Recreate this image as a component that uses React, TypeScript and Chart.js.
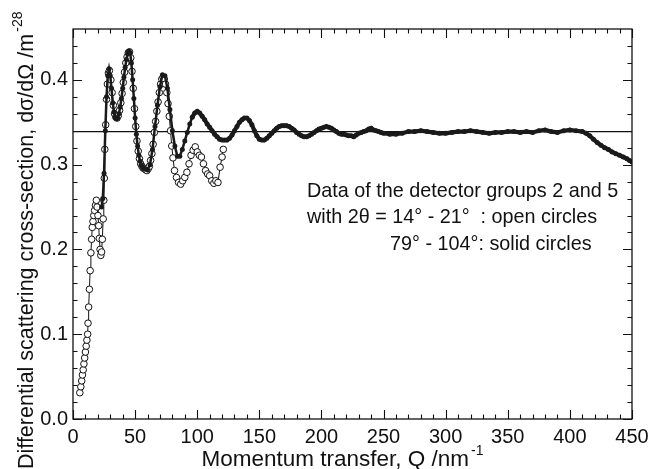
import React, { useEffect, useRef } from "react";
import { Chart, registerables } from "chart.js";

Chart.register(...registerables);

const FONT = '"Liberation Sans", Arial, Helvetica, sans-serif';

// Open circles: detector groups with 2θ = 14°–21°
const openQ = [
  5.5, 6.3, 7.0, 7.6, 8.2, 8.8, 9.4, 10.0, 10.6, 11.2, 11.8, 12.1, 12.6, 13.2, 13.8, 14.4, 15.0, 15.5, 16.1, 16.7,
  17.4, 18.1, 18.8, 19.4, 20.1, 20.7, 21.2, 21.8, 22.4, 23.0, 23.6, 24.3, 24.8, 25.2, 25.6, 26.3, 27.0, 27.7, 28.5, 29.3,
  30.5, 31.5, 32.5, 33.5, 34.5, 35.5, 36.5, 37.5, 38.5, 39.5, 40.5, 41.5, 42.5, 43.5, 44.5, 45.5, 46.5, 47.5, 48.5, 49.5,
  50.5, 51.5, 52.5, 53.5, 54.5, 55.5, 56.5, 57.5, 58.5, 59.5, 60.5, 61.5, 62.5, 63.5, 64.5, 65.5, 66.5, 67.5, 68.5, 69.5,
  70.5, 71.5, 72.5, 73.5, 74.5, 75.5, 76.5, 77.5, 78.5, 79.5, 80.5, 81.7, 83.3, 85.0, 86.7, 88.3, 90.0, 91.7, 93.4, 95.0,
  96.7, 98.4, 100.0, 101.7, 103.4, 105.0, 106.7, 108.4, 110.0, 111.7, 113.4, 115.0, 116.7, 118.4, 120.0, 121.0,
];
const openV = [
  0.031, 0.038, 0.045, 0.052, 0.058, 0.065, 0.072, 0.079, 0.086, 0.093, 0.1, 0.113, 0.132, 0.153, 0.175, 0.196, 0.212, 0.226, 0.233, 0.24,
  0.246, 0.252, 0.258, 0.25, 0.24, 0.228, 0.213, 0.2, 0.193, 0.197, 0.212, 0.236, 0.258, 0.284, 0.318, 0.347, 0.377, 0.395, 0.408, 0.411,
  0.4, 0.385, 0.37, 0.36, 0.356, 0.355, 0.358, 0.364, 0.373, 0.384, 0.397, 0.409, 0.42, 0.427, 0.432, 0.433, 0.426, 0.41, 0.39, 0.366,
  0.345, 0.328, 0.316, 0.307, 0.301, 0.298, 0.296, 0.295, 0.294, 0.293, 0.295, 0.298, 0.305, 0.313, 0.324, 0.338, 0.351, 0.363, 0.374, 0.385,
  0.395, 0.401, 0.403, 0.401, 0.395, 0.385, 0.372, 0.357, 0.34, 0.322, 0.308, 0.293, 0.285, 0.279, 0.277, 0.281, 0.285, 0.291, 0.301, 0.311,
  0.317, 0.321, 0.315, 0.311, 0.309, 0.301, 0.293, 0.289, 0.287, 0.281, 0.278, 0.281, 0.279, 0.297, 0.309, 0.318,
];

// Solid circles: detector groups with 2θ = 79°–104°
const solidQ = [
  23, 24, 25, 26, 27, 28, 29, 30, 31, 32, 33, 34, 35, 36, 37, 38, 39, 40, 41, 42, 43, 44, 45, 46, 47, 48, 49, 50,
  51, 52, 53, 54, 55, 56, 58, 60, 62, 64, 66, 68, 70, 72, 74, 76, 78, 80, 82, 84, 86, 88, 90, 92, 94, 96, 98, 100,
  102, 104, 106, 108, 110, 112, 114, 116, 118, 120, 122, 124, 126, 128, 130, 132, 134, 136, 138, 140, 142, 144, 146, 148, 150,
  152, 154, 156, 158, 160, 162, 164, 166, 168, 170, 172, 174, 176, 178, 180, 182, 184, 186, 188, 190, 192, 194, 196, 198, 200,
  202, 204, 206, 208, 210, 212, 214, 216, 218, 220, 222, 224, 226, 228, 230, 232, 234, 236, 238, 240, 242, 244, 246, 248, 250,
  255, 260, 265, 270, 275, 280, 285, 290, 295, 300, 305, 310, 315, 320, 325, 330, 335, 340, 345, 350, 355, 360, 365, 370, 375,
  380, 385, 390, 395, 400, 405, 410, 413, 416, 419, 422, 425, 428, 431, 434, 437, 440, 443, 446, 448, 450,
];
const solidV = [
  0.25, 0.26, 0.29, 0.34, 0.38, 0.405, 0.413, 0.405, 0.39, 0.373, 0.362, 0.356, 0.354, 0.355, 0.36, 0.368, 0.378, 0.39, 0.403, 0.415, 0.424, 0.431, 0.434, 0.432, 0.42, 0.4, 0.378, 0.355,
  0.336, 0.322, 0.311, 0.304, 0.299, 0.297, 0.295, 0.294, 0.3, 0.318, 0.345, 0.37, 0.392, 0.406, 0.405, 0.39, 0.365, 0.34, 0.322, 0.31, 0.31, 0.318, 0.328, 0.338, 0.348, 0.356, 0.361, 0.363,
  0.361, 0.357, 0.353, 0.348, 0.344, 0.34, 0.336, 0.333, 0.33, 0.329, 0.329, 0.329, 0.331, 0.335, 0.34, 0.345, 0.35, 0.353, 0.355, 0.355, 0.352, 0.347, 0.34, 0.334, 0.33,
  0.329, 0.329, 0.331, 0.334, 0.337, 0.34, 0.343, 0.345, 0.346, 0.346, 0.346, 0.345, 0.343, 0.341, 0.338, 0.336, 0.334, 0.333, 0.333, 0.334, 0.336, 0.338, 0.34, 0.342, 0.343,
  0.344, 0.345, 0.344, 0.343, 0.341, 0.339, 0.337, 0.336, 0.336, 0.335, 0.334, 0.334, 0.333, 0.335, 0.337, 0.338, 0.339, 0.34, 0.342, 0.343, 0.341, 0.34, 0.339, 0.338, 0.337,
  0.336, 0.336, 0.337, 0.339, 0.339, 0.34, 0.339, 0.338, 0.337, 0.337, 0.338, 0.339, 0.339, 0.34, 0.339, 0.338, 0.337, 0.338, 0.338, 0.339, 0.339, 0.338, 0.339, 0.338, 0.34,
  0.341, 0.339, 0.338, 0.34, 0.341, 0.34, 0.339, 0.337, 0.334, 0.33, 0.326, 0.323, 0.32, 0.318, 0.315, 0.313, 0.311, 0.309, 0.307, 0.305, 0.303,
];

// Horizontal reference level
const refQ = [0, 450];
const refV = [0.339, 0.339];

// Axes
const xRange = [0, 450];
const yRange = [0, 0.46];
const xMajorTicks = [0, 50, 100, 150, 200, 250, 300, 350, 400, 450];
const yMajorTicks = [0.0, 0.1, 0.2, 0.3, 0.4];
const xMinorStep = 10;
const yMinorStep = 0.02;

const xTitle = "Momentum transfer, Q /nm";
const xTitleSup = "-1";
const yTitle = "Differential scattering cross-section, d\u03c3/d\u03a9 /m";
const yTitleSup = "-28";

const noteLines = [
  "Data of the detector groups 2 and 5",
  "with 2\u03b8 = 14\u00b0 - 21\u00b0  : open circles",
  "79\u00b0 - 104\u00b0: solid circles",
];

const framePlugin = {
  id: "frameTicks",
  afterDraw(chart: any) {
    const { ctx, chartArea: a, scales } = chart;
    const xs = scales.x;
    const ys = scales.y;
    ctx.save();
    ctx.strokeStyle = "#111";
    ctx.lineWidth = 1.3;
    ctx.strokeRect(a.left, a.top, a.right - a.left, a.bottom - a.top);
    ctx.lineWidth = 1.1;
    ctx.beginPath();
    const nX = Math.round((xRange[1] - xRange[0]) / xMinorStep);
    for (let i = 0; i <= nX; i++) {
      const q = xRange[0] + i * xMinorStep;
      const major = xMajorTicks.some((t) => Math.abs(t - q) < 1e-6);
      const len = major ? 9 : 4.5;
      const px = Math.round(xs.getPixelForValue(q)) + 0.5;
      ctx.moveTo(px, a.bottom);
      ctx.lineTo(px, a.bottom - len);
      ctx.moveTo(px, a.top);
      ctx.lineTo(px, a.top + len);
    }
    const nY = Math.floor((yRange[1] - yRange[0]) / yMinorStep + 1e-6);
    for (let i = 0; i <= nY; i++) {
      const v = yRange[0] + i * yMinorStep;
      if (v >= yRange[1] - 1e-6) continue;
      const major = yMajorTicks.some((t) => Math.abs(t - v) < 1e-6);
      const len = major ? 9 : 4.5;
      const py = Math.round(ys.getPixelForValue(v)) + 0.5;
      ctx.moveTo(a.left, py);
      ctx.lineTo(a.left + len, py);
      ctx.moveTo(a.right, py);
      ctx.lineTo(a.right - len, py);
    }
    ctx.stroke();

    // axis titles with superscripts
    ctx.fillStyle = "#111";
    ctx.textAlign = "left";
    ctx.textBaseline = "alphabetic";
    ctx.font = `22.5px ${FONT}`;
    const wx = ctx.measureText(xTitle).width;
    ctx.font = `14px ${FONT}`;
    const wxs = ctx.measureText(xTitleSup).width;
    const cx = (a.left + a.right) / 2 - 10;
    const x0 = cx - (wx + wxs + 2) / 2;
    ctx.font = `22.5px ${FONT}`;
    ctx.fillText(xTitle, x0, 466);
    ctx.font = `14px ${FONT}`;
    ctx.fillText(xTitleSup, x0 + wx + 2, 455);

    ctx.save();
    ctx.translate(33, 469);
    ctx.rotate(-Math.PI / 2);
    ctx.font = `21.5px ${FONT}`;
    ctx.fillText(yTitle, 0, 0);
    const wy = ctx.measureText(yTitle).width;
    ctx.font = `14px ${FONT}`;
    ctx.fillText(yTitleSup, wy + 2, -11);
    ctx.restore();

    // note text
    ctx.font = `19.8px ${FONT}`;
    ctx.fillText(noteLines[0], 307, 197);
    ctx.fillText(noteLines[1], 307, 223);
    ctx.fillText(noteLines[2], 390, 250);
    ctx.restore();
  },
};

export default function App() {
  const ref = useRef<HTMLCanvasElement | null>(null);
  useEffect(() => {
    if (!ref.current) return;
    const chart = new Chart(ref.current, {
      type: "scatter",
      data: {
        datasets: [
          {
            label: "solid",
            data: solidQ.map((q, i) => ({ x: q, y: solidV[i] })),
            showLine: true,
            borderColor: "#1a1a1a",
            backgroundColor: "#1a1a1a",
            pointRadius: 2.5,
            pointBorderWidth: 0,
            borderWidth: 3,
            segment: {
              borderWidth: (c: any) => (c.p0.parsed.x < 95 ? 2.5 : 4.2),
            },
            order: 0,
          },
          {
            label: "open",
            data: openQ.map((q, i) => ({ x: q, y: openV[i] })),
            showLine: true,
            borderColor: "#111",
            backgroundColor: "#ffffff",
            pointRadius: 3.3,
            pointBorderWidth: 1,
            pointBorderColor: "#111",
            borderWidth: 1,
            order: 1,
          },
          {
            label: "ref",
            data: refQ.map((q, i) => ({ x: q, y: refV[i] })),
            showLine: true,
            borderColor: "#111",
            borderWidth: 1.3,
            pointRadius: 0,
            order: 2,
          },
        ],
      },
      options: {
        responsive: false,
        animation: false,
        events: [],
        layout: { padding: { top: 29, right: 17, left: 0, bottom: 0 } },
        plugins: { legend: { display: false }, tooltip: { enabled: false } },
        scales: {
          x: {
            type: "linear",
            min: xRange[0],
            max: xRange[1],
            grid: { display: false, drawTicks: false },
            border: { display: false },
            afterBuildTicks: (s: any) => {
              s.ticks = xMajorTicks.map((v) => ({ value: v }));
            },
            afterFit: (s: any) => {
              s.height = 50;
              s.paddingLeft = 0;
              s.paddingRight = 0;
            },
            ticks: {
              font: { family: FONT, size: 20 },
              color: "#111",
              padding: 6,
              maxRotation: 0,
              autoSkip: false,
              callback: (v: any) => String(v),
            },
          },
          y: {
            type: "linear",
            min: yRange[0],
            max: yRange[1],
            grid: { display: false, drawTicks: false },
            border: { display: false },
            afterBuildTicks: (s: any) => {
              s.ticks = yMajorTicks.map((v) => ({ value: v }));
            },
            afterFit: (s: any) => {
              s.width = 73;
              s.paddingTop = 0;
              s.paddingBottom = 0;
            },
            ticks: {
              font: { family: FONT, size: 20 },
              color: "#111",
              padding: 5,
              autoSkip: false,
              callback: (v: any) => Number(v).toFixed(1),
            },
          },
        },
      },
      plugins: [framePlugin],
    });
    return () => chart.destroy();
  }, []);
  return (
    <div style={{ position: "absolute", left: 0, top: 0, width: 649, height: 469, background: "#fff" }}>
      <canvas ref={ref} width={649} height={469} />
    </div>
  );
}
